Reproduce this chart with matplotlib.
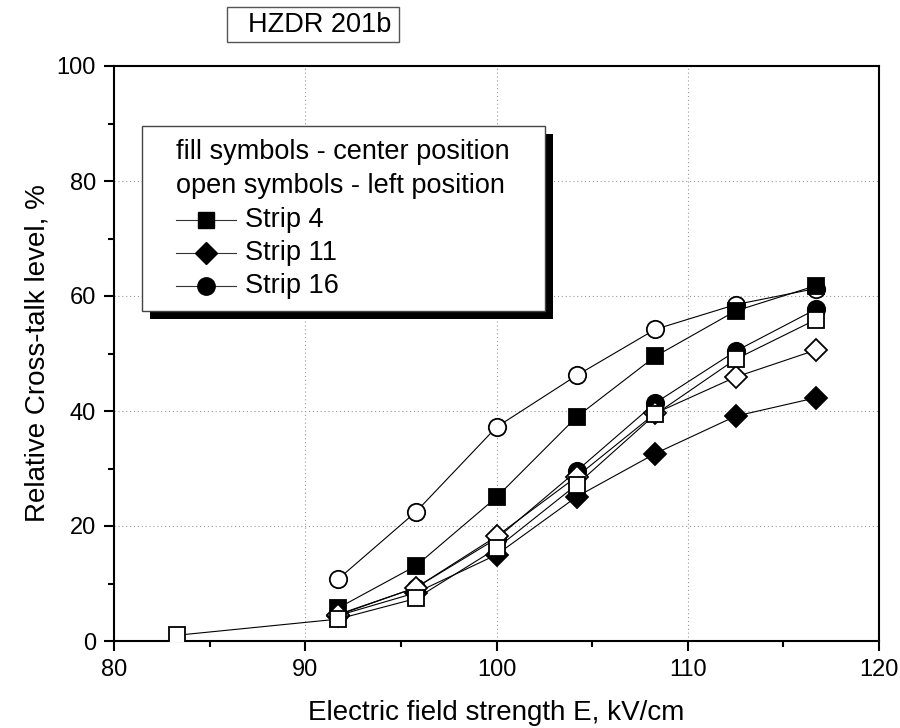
import matplotlib
matplotlib.use('Agg')
import matplotlib.pyplot as plt
from matplotlib.patches import Rectangle
from matplotlib.lines import Line2D

plt.rcParams['font.family'] = ['Liberation Sans', 'DejaVu Sans']

# Electric field strength, kV/cm
field = [91.7, 95.8, 100.0, 104.2, 108.3, 112.5, 116.7]
field_strip4_left = [83.3] + field

# Relative cross-talk level, %  (filled = center position, open = left position)
strip4_center = [5.7, 13.1, 25.0, 39.0, 49.5, 57.4, 61.8]
strip11_center = [4.4, 8.4, 15.0, 25.1, 32.6, 39.1, 42.3]
strip16_center = [4.5, 9.3, 17.8, 29.6, 41.4, 50.4, 57.7]
strip4_left = [1.0, 3.8, 7.4, 16.1, 27.2, 39.4, 49.0, 55.9]
strip11_left = [4.6, 9.3, 18.2, 28.6, 39.6, 45.9, 50.6]
strip16_left = [10.7, 22.5, 37.2, 46.2, 54.2, 58.5, 61.3]

legend_names = ['Strip 4', 'Strip 11', 'Strip 16']
legend_markers = ['s', 'D', 'o']
note_lines = ['fill symbols - center position', 'open symbols - left position']
title_text = 'HZDR 201b'

W, H = 900, 728
fig = plt.figure(figsize=(W / 100, H / 100), dpi=100)
ax = fig.add_axes([114 / W, 1 - 641 / H, 765 / W, 575 / H])


def fx(px):
    return px / W


def fy(py):
    return 1 - py / H


msize = {'s': 11, 'D': 11, 'o': 12.5}

# drawing order: later series sit on top of earlier ones
series = [
    (field, strip16_left, 'o', 'white'),
    (field, strip4_center, 's', 'black'),
    (field, strip16_center, 'o', 'black'),
    (field, strip11_center, 'D', 'black'),
    (field, strip11_left, 'D', 'white'),
    (field_strip4_left, strip4_left, 's', 'white'),
]
for i, (x, y, m, fc) in enumerate(series):
    ax.plot(x, y, color='black', lw=0.8, zorder=2)
    ax.plot(x, y, ls='none', marker=m, ms=msize[m], mfc=fc, mec='black',
            mew=1.3, zorder=3 + i)

ax.set_xlim(80, 120)
ax.set_ylim(0, 100)
ax.set_xticks([80, 90, 100, 110, 120])
ax.set_xticks([85, 95, 105, 115], minor=True)
ax.set_yticks([0, 20, 40, 60, 80, 100])
ax.set_yticks([10, 30, 50, 70, 90], minor=True)
ax.grid(True, which='major', color='#999999', ls=(0, (1, 2.5)), lw=0.8)
ax.set_axisbelow(True)

for sp in ax.spines.values():
    sp.set_linewidth(1.5)
ax.tick_params(which='major', direction='out', length=7, width=1.5,
               labelsize=17, pad=6, top=False, right=False)
ax.tick_params(which='minor', direction='out', length=4, width=1.5,
               top=False, right=False)

ax.set_xlabel('Electric field strength E, kV/cm', fontsize=20, va='center')
ax.xaxis.set_label_coords(0.5, (641 - 713) / 575)
ax.set_ylabel('Relative Cross-talk level, %', fontsize=20, va='center')
ax.yaxis.set_label_coords((38 - 114) / 765, 0.5)

# legend box with solid drop shadow
fig.add_artist(Rectangle((fx(150), fy(319)), (545 - 142) / W, (311 - 126) / H,
                         transform=fig.transFigure, fc='black', ec='none', zorder=5))
fig.add_artist(Rectangle((fx(142), fy(311)), (545 - 142) / W, (311 - 126) / H,
                         transform=fig.transFigure, fc='white', ec='#444444',
                         lw=1, zorder=6))
for k, line in enumerate(note_lines):
    fig.text(fx(176), fy(152 + 34 * k), line, fontsize=19.5, va='center',
             ha='left', zorder=7)
for k, (name, m) in enumerate(zip(legend_names, legend_markers)):
    yy = fy(220 + 33 * k)
    fig.add_artist(Line2D([fx(176), fx(236)], [yy, yy], transform=fig.transFigure,
                          color='#333333', lw=0.8, zorder=7))
    fig.add_artist(Line2D([fx(206)], [yy], transform=fig.transFigure, ls='none',
                          marker=m, ms=msize[m], mfc='black', mec='black', zorder=8))
    fig.text(fx(245), yy, name, fontsize=19.5, va='center', ha='left', zorder=7)

# boxed title above the plot
fig.add_artist(Rectangle((fx(227), fy(42)), (399 - 227) / W, (42 - 7) / H,
                         transform=fig.transFigure, fc='white', ec='#555555', lw=1))
fig.text(fx(248), fy(25), title_text, fontsize=19.5, va='center', ha='left')

fig.savefig('out.png', dpi=100)
